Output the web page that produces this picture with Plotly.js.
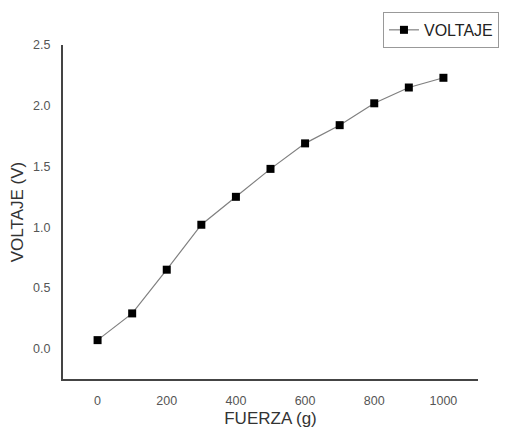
<!DOCTYPE html>
<html>
<head>
<meta charset="utf-8">
<script src="https://cdn.plot.ly/plotly-3.0.1.min.js"></script>
<style>html,body{margin:0;padding:0;background:#fff;}#chart{width:506px;height:428px;}</style>
</head>
<body>
<div id="chart"></div>
<script>
const fuerza = [0, 100, 200, 300, 400, 500, 600, 700, 800, 900, 1000];
const voltaje = [0.07, 0.29, 0.65, 1.02, 1.25, 1.48, 1.69, 1.84, 2.02, 2.15, 2.23];
const xTicks = [0, 200, 400, 600, 800, 1000];
const yTicks = [0.0, 0.5, 1.0, 1.5, 2.0, 2.5];

const trace = {
  x: fuerza, y: voltaje, type: 'scatter', mode: 'lines+markers', name: 'VOLTAJE',
  line: {color: '#808080', width: 1.2},
  marker: {symbol: 'square', size: 8, color: '#000000'}
};
const layout = {
  width: 506, height: 428,
  margin: {l: 63, r: 28, t: 45, b: 49, autoexpand: false},
  paper_bgcolor: '#ffffff', plot_bgcolor: '#ffffff',
  font: {family: 'Liberation Sans, Arial, sans-serif', color: '#555555', size: 12.5},
  showlegend: true,
  legend: {x: 0.771, y: 1.099, xanchor: 'left', yanchor: 'top', bordercolor: '#999999', borderwidth: 1,
           font: {size: 16, color: '#222222'}, bgcolor: '#ffffff', tracegroupgap: 0},
  xaxis: {range: [-100, 1100], tickvals: xTicks, ticktext: xTicks.map(String), showgrid: false, zeroline: false,
          showline: true, linecolor: '#444444', linewidth: 2, ticks: '', ticklabelstandoff: 9, automargin: false,
          title: {text: 'FUERZA (g)', font: {size: 17, color: '#333333'}, standoff: 6}},
  yaxis: {range: [-0.25, 2.5], tickvals: yTicks, ticktext: yTicks.map(v => v.toFixed(1)), showgrid: false, zeroline: false,
          showline: true, linecolor: '#444444', linewidth: 2, ticks: '', ticklabelstandoff: 8, automargin: false,
          title: {text: 'VOLTAJE (V)', font: {size: 17, color: '#333333'}, standoff: 5}}
};
Plotly.newPlot('chart', [trace], layout, {displayModeBar: false, staticPlot: true});
</script>
</body>
</html>
